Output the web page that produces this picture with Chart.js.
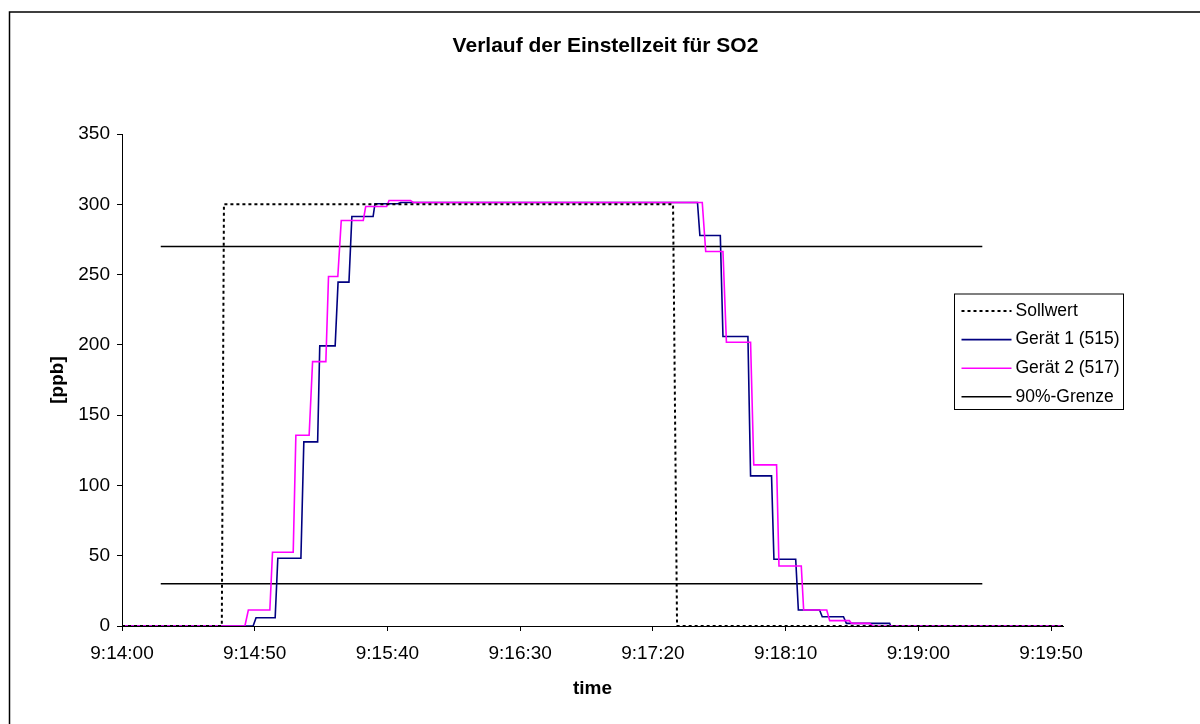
<!DOCTYPE html>
<html>
<head>
<meta charset="utf-8">
<title>Verlauf der Einstellzeit für SO2</title>
<script src="https://cdn.jsdelivr.net/npm/chart.js@4/dist/chart.umd.min.js"></script>
<style>
  html, body { margin: 0; padding: 0; background: #fff; }
  #so2Chart { display: block; }
</style>
</head>
<body>
<canvas id="so2Chart" width="1200" height="724"></canvas>
<script>
// x values are seconds after 9:14:00
const chartTitle = 'Verlauf der Einstellzeit für SO2';
const tickLabels = ['9:14:00', '9:14:50', '9:15:40', '9:16:30', '9:17:20', '9:18:10', '9:19:00', '9:19:50'];
const axisEnd = 354.5;

const sollwertTime = [0, 37.6, 38.4, 207.6, 209.1, 354.5];
const sollwertPpb = [0, 0, 300, 300, 0, 0];

const geraet1Time = [0, 49.4, 50.5, 57.7, 58.7, 67.4, 68.5, 73.7, 74.5, 80.3, 81.4, 85.5, 86.6, 94.6, 95.3, 103.9, 105.0,
  216.8, 217.7, 225.4, 226.4, 235.8, 236.8, 244.7, 245.6, 253.8, 254.8, 262.8, 263.8, 271.8, 272.9, 289.2, 289.6, 354.5];
const geraet1Ppb = [0, 0, 5.9, 5.9, 48.2, 48.2, 131, 131, 199.3, 199.3, 244.6, 244.6, 291.3, 291.3, 300.4, 300.4, 301.3,
  301.3, 277.8, 277.8, 205.9, 205.9, 106.8, 106.8, 47.5, 47.5, 11.4, 11.4, 6.6, 6.6, 1.9, 1.9, 0, 0];

const geraet2Time = [0, 46.3, 47.6, 55.7, 56.7, 64.5, 65.5, 70.5, 71.8, 76.8, 77.8, 81.3, 82.6, 90.9, 91.8, 99.7, 100.6, 108.7, 109.7,
  218.6, 219.9, 226.4, 227.7, 236.8, 238.0, 246.6, 247.5, 255.9, 256.8, 265.5, 266.6, 274.0, 274.8, 281.6, 282.9, 354.5];
const geraet2Ppb = [0, 0, 11.4, 11.4, 52.5, 52.5, 135.7, 135.7, 188.1, 188.1, 248.6, 248.6, 288.5, 288.5, 298.4, 298.4, 302.7, 302.7, 301.3,
  301.3, 266.4, 266.4, 201.9, 201.9, 114.6, 114.6, 42.7, 42.7, 11.4, 11.4, 3.8, 3.8, 1.9, 1.9, 0, 0];

const grenzeTime = [14.6, 324.1];
const grenzeLevels = [270, 30];

const toPoints = (xs, ys) => xs.map((x, i) => ({ x: x, y: ys[i] }));

function grenzePoints() {
  const pts = [];
  grenzeLevels.forEach((level, i) => {
    if (i > 0) pts.push({ x: grenzeTime[1], y: null });
    grenzeTime.forEach(t => pts.push({ x: t, y: level }));
  });
  return pts;
}

Chart.defaults.font.family = "'Liberation Sans', Arial, sans-serif";
Chart.defaults.color = '#000';

// white page, thin outer frame and the title (centred on the whole frame, not the plot)
const framePlugin = {
  id: 'frame',
  beforeDraw(chart) {
    const ctx = chart.ctx;
    ctx.save();
    ctx.fillStyle = '#fff';
    ctx.fillRect(0, 0, chart.width, chart.height);
    ctx.strokeStyle = '#000';
    ctx.lineWidth = 1.5;
    ctx.strokeRect(9.5, 12, chart.width + 20, chart.height + 20);
    ctx.fillStyle = '#000';
    ctx.font = "bold 21px 'Liberation Sans', Arial, sans-serif";
    ctx.textAlign = 'center';
    ctx.textBaseline = 'middle';
    ctx.fillText(chartTitle, 605.5, 46.7);
    ctx.restore();
  }
};

// boxed legend sitting over the right side of the plot
const boxLegendPlugin = {
  id: 'boxLegend',
  afterDraw(chart) {
    const ctx = chart.ctx;
    const left = 954.5, top = 294, w = 169, h = 115.5;
    ctx.save();
    ctx.fillStyle = '#fff';
    ctx.fillRect(left, top, w, h);
    ctx.strokeStyle = '#000';
    ctx.lineWidth = 1;
    ctx.strokeRect(left, top, w, h);
    ctx.font = "17.5px 'Liberation Sans', Arial, sans-serif";
    ctx.textBaseline = 'middle';
    ctx.textAlign = 'left';
    chart.data.datasets.forEach((ds, i) => {
      const y = top + 17 + i * 28.6;
      ctx.beginPath();
      ctx.setLineDash(ds.borderDash || []);
      ctx.strokeStyle = ds.borderColor;
      ctx.lineWidth = ds.borderWidth;
      ctx.moveTo(left + 7, y);
      ctx.lineTo(left + 57, y);
      ctx.stroke();
      ctx.setLineDash([]);
      ctx.fillStyle = '#000';
      ctx.fillText(ds.label, left + 61, y);
    });
    ctx.restore();
  }
};

document.addEventListener('DOMContentLoaded', () => {
  const ctx = document.getElementById('so2Chart');
  new Chart(ctx, {
    type: 'scatter',
    data: {
      datasets: [{
        label: 'Sollwert',
        data: toPoints(sollwertTime, sollwertPpb),
        borderColor: '#000',
        borderWidth: 2,
        borderDash: [3, 3],
        order: 0
      }, {
        label: 'Gerät 1 (515)',
        data: toPoints(geraet1Time, geraet1Ppb),
        borderColor: '#000080',
        borderWidth: 1.6,
        order: 2
      }, {
        label: 'Gerät 2 (517)',
        data: toPoints(geraet2Time, geraet2Ppb),
        borderColor: '#ff00ff',
        borderWidth: 1.6,
        order: 1
      }, {
        label: '90%-Grenze',
        data: grenzePoints(),
        borderColor: '#000',
        borderWidth: 1.5,
        order: 3
      }].map(ds => Object.assign(ds, { showLine: true, pointRadius: 0, tension: 0, fill: false }))
    },
    options: {
      responsive: false,
      animation: false,
      layout: { padding: { left: 0, right: 137, top: 134, bottom: 0 } },
      plugins: {
        legend: { display: false },
        tooltip: { enabled: false },
        title: { display: false }
      },
      scales: {
        x: {
          type: 'linear',
          min: 0,
          max: axisEnd,
          afterFit: scale => { scale.height = 98; },
          ticks: {
            stepSize: 50,
            includeBounds: false,
            autoSkip: false,
            maxRotation: 0,
            padding: 11.6,
            font: { size: 19 },
            callback: value => tickLabels[Math.round(value / 50)]
          },
          grid: { drawOnChartArea: false, drawTicks: true, tickLength: 5, color: '#000' },
          border: { color: '#000', width: 1 },
          title: {
            display: true,
            text: 'time',
            font: { size: 19, weight: 'bold' },
            padding: { top: 4, bottom: 24 }
          }
        },
        y: {
          min: 0,
          max: 350,
          afterFit: scale => { scale.width = 122; },
          ticks: { stepSize: 50, padding: 7, font: { size: 19 } },
          grid: { drawOnChartArea: false, drawTicks: true, tickLength: 5, color: '#000' },
          border: { color: '#000', width: 1 },
          title: {
            display: true,
            text: '[ppb]',
            font: { size: 19, weight: 'bold' },
            padding: { top: 46, bottom: 0 }
          }
        }
      }
    },
    plugins: [framePlugin, boxLegendPlugin]
  });
});
</script>
</body>
</html>
